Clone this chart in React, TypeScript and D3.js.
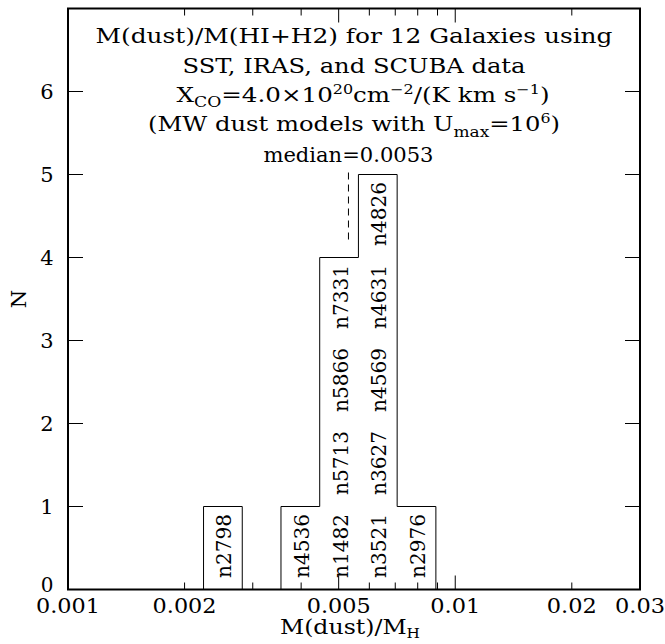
import React from 'react';
import * as d3 from 'd3';

const galaxyNames = ["n2798", "n4536", "n1482", "n5713", "n5866", "n7331", "n3521", "n3627", "n4569", "n4631", "n4826", "n2976"];
const galaxyLogRatio = [-2.6, -2.4, -2.3, -2.3, -2.3, -2.3, -2.2, -2.2, -2.2, -2.2, -2.2, -2.1];
const binEdgesLog = [-2.65, -2.55, -2.45, -2.35, -2.25, -2.15, -2.05];
const medianValue = 0.0053;
const medianLineRange = [4.2, 5];
const xTickValues = [0.001, 0.002, 0.005, 0.01, 0.02, 0.03];
const xTickLabels = ["0.001", "0.002", "0.005", "0.01", "0.02", "0.03"];
const xMajorTicks = [0.005, 0.01];
const xMinorTicks = [0.002, 0.003, 0.004, 0.006, 0.007, 0.008, 0.009, 0.02];
const yTickValues = [0, 1, 2, 3, 4, 5, 6];
const yMajorTicks = [1, 2, 3, 4, 5, 6];

const W = 665;
const H = 644;
const L = 68, R = 640, T = 8.5, B = 589.5;
const F = "'DejaVu Serif', serif";

export default function App() {
  const x = d3.scaleLog().domain([0.001, 0.03]).range([L, R]);
  const y = d3.scaleLinear().domain([0, 7]).range([B, T]);

  const bins = d3.range(binEdgesLog.length - 1).map((i) => {
    const lo = binEdgesLog[i];
    const hi = binEdgesLog[i + 1];
    const members = galaxyNames.filter((_, j) => galaxyLogRatio[j] >= lo && galaxyLogRatio[j] < hi);
    return { lo, hi, members };
  });

  const pts: [number, number][] = [[binEdgesLog[0], 0]];
  bins.forEach((b) => {
    pts.push([b.lo, b.members.length]);
    pts.push([b.hi, b.members.length]);
  });
  pts.push([binEdgesLog[binEdgesLog.length - 1], 0]);
  const line = d3.line<[number, number]>()
    .x((d) => x(Math.pow(10, d[0])))
    .y((d) => y(d[1]));

  const cx = (L + R) / 2;
  const mx = x(medianValue);

  return (
    <svg width={W} height={H} style={{ position: 'absolute', left: 0, top: 0, background: '#fff' }}
      fontFamily={F} fill="#000">
      <rect x={0} y={0} width={W} height={H} fill="#fff" />
      {/* histogram outline */}
      <path d={line(pts) || ''} fill="none" stroke="#000" strokeWidth={1} />
      {/* galaxy labels */}
      {bins.map((b, i) => b.members.map((name, k) => {
        const bx = x(Math.pow(10, (b.lo + b.hi) / 2)) + 1.5;
        const by = y(k + 0.5) - 2;
        return (
          <text key={i + '-' + k} x={0} y={0} transform={`translate(${bx},${by}) rotate(-90)`}
            textAnchor="middle" dominantBaseline="central" fontSize={20}
            textLength={64} lengthAdjust="spacingAndGlyphs">{name}</text>
        );
      }))}
      {/* median line */}
      <line x1={mx} x2={mx} y1={y(medianLineRange[1]) - 2} y2={y(medianLineRange[0])}
        stroke="#000" strokeWidth={1} strokeDasharray="7,5" />
      <text x={mx} y={162} textAnchor="middle" fontSize={20} textLength={170} lengthAdjust="spacingAndGlyphs">median=0.0053</text>
      {/* title */}
      <text x={cx} y={43} textAnchor="middle" fontSize={20} textLength={517} lengthAdjust="spacingAndGlyphs">M(dust)/M(HI+H2) for 12 Galaxies using</text>
      <text x={cx} y={73} textAnchor="middle" fontSize={20} textLength={343} lengthAdjust="spacingAndGlyphs">SST, IRAS, and SCUBA data</text>
      <text x={363} y={102} textAnchor="middle" fontSize={20} textLength={373} lengthAdjust="spacingAndGlyphs">
        X<tspan dy={5} fontSize={14}>CO</tspan><tspan dy={-5}>=4.0×10</tspan><tspan dy={-8} fontSize={13}>20</tspan><tspan dy={8}>cm</tspan><tspan dy={-8} fontSize={13}>−2</tspan><tspan dy={8}>/(K km s</tspan><tspan dy={-8} fontSize={13}>−1</tspan><tspan dy={8}>)</tspan>
      </text>
      <text x={cx} y={131} textAnchor="middle" fontSize={20} textLength={412} lengthAdjust="spacingAndGlyphs">
        (MW dust models with U<tspan dy={6} fontSize={14}>max</tspan><tspan dy={-6}>=10</tspan><tspan dy={-8} fontSize={13}>6</tspan><tspan dy={8}>)</tspan>
      </text>
      {/* frame */}
      <rect x={L} y={T} width={R - L} height={B - T} fill="none" stroke="#000" strokeWidth={2} />
      {/* y ticks */}
      {yMajorTicks.map((v) => (
        <g key={'yt' + v}>
          <line x1={L} x2={L + 15} y1={y(v)} y2={y(v)} stroke="#000" strokeWidth={1} />
          <line x1={R} x2={R - 15} y1={y(v)} y2={y(v)} stroke="#000" strokeWidth={1} />
        </g>
      ))}
      {yTickValues.map((v) => (
        <text key={'yl' + v} x={47} y={v === 0 ? y(v) - 5 : y(v)} textAnchor="middle" dominantBaseline="central" fontSize={v === 0 ? 20 : 21}>{v}</text>
      ))}
      {/* x ticks */}
      {xMajorTicks.map((v) => (
        <g key={'xM' + v}>
          <line x1={x(v)} x2={x(v)} y1={B} y2={B - 14} stroke="#000" strokeWidth={1} />
          <line x1={x(v)} x2={x(v)} y1={T} y2={T + 14} stroke="#000" strokeWidth={1} />
        </g>
      ))}
      {xMinorTicks.map((v) => (
        <g key={'xm' + v}>
          <line x1={x(v)} x2={x(v)} y1={B} y2={B - 7} stroke="#000" strokeWidth={1} />
          <line x1={x(v)} x2={x(v)} y1={T} y2={T + 7} stroke="#000" strokeWidth={1} />
        </g>
      ))}
      {xTickValues.map((v, i) => (
        <text key={'xl' + v} x={x(v)} y={613} textAnchor="middle" fontSize={20}
          textLength={xTickLabels[i].length === 5 ? 64 : 50} lengthAdjust="spacingAndGlyphs">{xTickLabels[i]}</text>
      ))}
      {/* axis labels */}
      <text x={cx - 4} y={634} textAnchor="middle" fontSize={20} textLength={140} lengthAdjust="spacingAndGlyphs">
        M(dust)/M<tspan dy={4} fontSize={13}>H</tspan>
      </text>
      <text x={0} y={0} transform={`translate(19,${y(3.5)}) rotate(-90)`} textAnchor="middle" dominantBaseline="central" fontSize={21}>N</text>
    </svg>
  );
}
